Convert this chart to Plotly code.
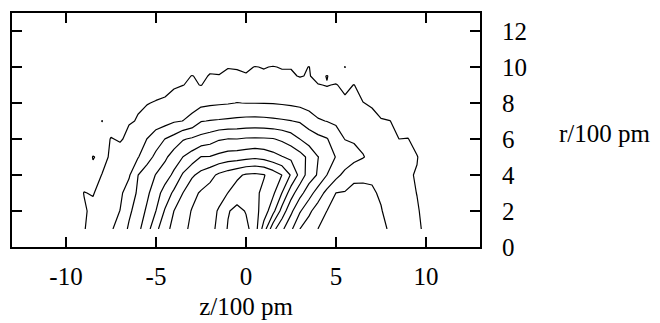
import plotly.graph_objects as go

# Grid coordinates: axial position z and radial position r (units of 100 pm)
z_pos = [-10, -9.5, -9, -8.5, -8, -7.5, -7, -6.5, -6, -5.5, -5, -4.5, -4, -3.5, -3,
         -2.5, -2, -1.5, -1, -0.5, 0, 0.5, 1, 1.5, 2, 2.5, 3, 3.5, 4, 4.5, 5, 5.5,
         6, 6.5, 7, 7.5, 8, 8.5, 9, 9.5, 10, 10.5, 11]
r_pos = [1, 2, 3, 4, 5, 6, 7, 8, 9, 9.5, 10, 11]

# Density values, one row per radial position
dens_r1 = [0.5, 0.75, 0.96, 1.25, 1.56, 1.88, 2.43, 3.13, 3.75, 4.6, 5.75, 6.67, 7.3, 7.8, 8.18,
           8.47, 8.76, 9.2, 10.09, 10.51, 10.26, 9.5, 7.5, 5.33, 4.2, 3.2, 1.99, 1.5, 0.99, 0.9,
           0.8, 0.7, 0.6, 0.71, 0.81, 0.92, 1.04, 1.23, 1.28, 1.1, 0.89, 0.6, 0.4]
dens_r2 = [0.45, 0.7, 0.91, 1.17, 1.5, 1.72, 2.01, 2.83, 3.4, 4.17, 5.01, 6.1, 7.01, 7.56, 8.06,
           8.3, 8.71, 9.08, 9.92, 10.3, 9.94, 9.31, 8.55, 7.33, 5.6, 4.22, 3.1, 2.2, 1.53, 0.99,
           0.89, 0.8, 0.7, 0.79, 0.89, 0.98, 1.12, 1.27, 1.19, 1.05, 0.85, 0.6, 0.4]
dens_r3 = [0.4, 0.6, 1.02, 0.96, 1.24, 1.45, 1.82, 2.44, 3.15, 3.79, 4.6, 5.4, 6.2, 7.01, 7.7,
           8.12, 8.41, 8.71, 9.01, 9.43, 9.44, 9.18, 8.8, 8.2, 6.98, 5.45, 4.33, 3.45, 2.5, 1.71,
           0.99, 0.93, 0.86, 0.9, 0.96, 1.04, 1.15, 1.25, 1.13, 0.99, 0.8, 0.55, 0.35]
dens_r4 = [0.3, 0.5, 0.7, 0.85, 1.01, 1.35, 1.59, 1.88, 2.99, 3.45, 4.05, 4.57, 5.2, 6.13, 6.85,
           7.3, 7.7, 8.19, 8.5, 8.81, 9.12, 9.2, 9.05, 8.56, 7.99, 6.9, 5.67, 4.5, 3.9, 2.99,
           2.3, 1.7, 1.12, 1.08, 1.05, 1.1, 1.18, 1.2, 1.06, 0.96, 0.7, 0.5, 0.3]
dens_r5 = [0.2, 0.35, 0.55, 1.03, 0.87, 1.06, 1.35, 1.65, 1.94, 2.67, 3.2, 3.8, 4.5, 5.01, 5.45,
           6.03, 6.05, 6.28, 6.48, 6.54, 6.67, 6.8, 6.65, 6.36, 6.05, 5.8, 5.4, 4.75, 4.02, 3.58,
           2.95, 2.71, 2.39, 2.06, 1.7, 1.45, 1.3, 1.2, 1.12, 1.03, 0.7, 0.45, 0.25]
dens_r6 = [0.1, 0.2, 0.35, 0.5, 0.65, 1.04, 0.92, 1.17, 1.58, 2.01, 2.6, 3.01, 3.35, 3.92, 4.13,
           4.35, 4.57, 4.9, 5.01, 5.0, 5.1, 5.12, 5.1, 5.05, 4.83, 4.5, 3.99, 3.55, 3.29, 3.05,
           2.5, 1.97, 1.87, 1.72, 1.56, 1.41, 1.25, 1.0, 1.02, 0.75, 0.55, 0.35, 0.2]
dens_r7 = [0.05, 0.1, 0.2, 0.3, 1.02, 0.6, 0.75, 0.95, 1.03, 1.26, 1.44, 1.63, 1.9, 2.01, 2.3,
           2.95, 3.04, 3.1, 3.17, 3.23, 3.29, 3.3, 3.27, 3.2, 3.12, 3.02, 2.9, 2.5, 2.1, 1.97,
           1.83, 1.69, 1.54, 1.4, 1.26, 1.05, 1.01, 0.8, 0.62, 0.45, 0.3, 0.2, 0.1]
dens_r8 = [0, 0.05, 0.1, 0.2, 0.3, 0.45, 0.6, 0.75, 0.95, 0.97, 1.05, 1.1, 1.35, 1.48, 1.6,
           1.72, 1.82, 1.88, 1.93, 2.02, 1.98, 1.98, 1.97, 1.95, 1.9, 1.82, 1.72, 1.6, 1.48, 1.36,
           1.25, 1.15, 1.06, 1.02, 0.9, 0.7, 0.55, 0.4, 0.3, 0.2, 0.1, 0.05, 0]
dens_r9 = [0, 0, 0, 0.05, 0.1, 0.2, 0.3, 0.4, 0.5, 0.6, 0.7, 0.8, 0.9, 0.99, 1.08,
           0.98, 1.19, 1.15, 1.25, 1.33, 1.28, 1.2, 1.28, 1.27, 1.32, 1.2, 1.2, 1.08, 1.03, 0.97,
           1.04, 0.82, 1.02, 0.65, 0.55, 0.45, 0.35, 0.25, 0.15, 0.1, 0.05, 0, 0]
dens_r9h = [0, 0, 0, 0, 0, 0.05, 0.1, 0.15, 0.25, 0.35, 0.45, 0.55, 0.65, 0.78, 1.03,
            0.85, 1.05, 1.02, 1.1, 1.12, 1.05, 1.12, 1.1, 1.15, 1.12, 1.06, 0.97, 1.04, 0.8, 1.03,
            0.7, 0.6, 0.5, 0.35, 0.25, 0.2, 0.15, 0.1, 0.05, 0, 0, 0, 0]
dens_r10 = [0, 0, 0, 0, 0, 0, 0, 0, 0, 0, 0, 0.1, 0.2, 0.35, 0.5,
            0.65, 0.85, 0.88, 0.98, 0.95, 0.9, 1.02, 0.97, 1.03, 0.96, 0.98, 0.84, 1.02, 0.62, 0.5,
            0.38, 1.03, 0.15, 0.08, 0, 0, 0, 0, 0, 0, 0, 0, 0]
dens_r11 = [0, 0, 0, 0, 0, 0, 0, 0, 0, 0, 0, 0, 0, 0, 0,
            0.05, 0.1, 0.15, 0.2, 0.25, 0.28, 0.3, 0.3, 0.28, 0.25, 0.2, 0.15, 0.1, 0.05, 0,
            0, 0, 0, 0, 0, 0, 0, 0, 0, 0, 0, 0, 0]

density = [dens_r1, dens_r2, dens_r3, dens_r4, dens_r5, dens_r6,
           dens_r7, dens_r8, dens_r9, dens_r9h, dens_r10, dens_r11]

x_ticks = [-10, -5, 0, 5, 10]
y_ticks = [0, 2, 4, 6, 8, 10, 12]

FONT = "Liberation Serif, Times New Roman, serif"

fig = go.Figure(
    go.Contour(
        x=z_pos,
        y=r_pos,
        z=density,
        contours=dict(coloring="none", start=1, end=10, size=1, showlabels=False),
        line=dict(color="black", width=1.2, smoothing=0),
        showscale=False,
        hoverinfo="skip",
    )
)

axis_common = dict(
    showgrid=False,
    zeroline=False,
    showline=True,
    linecolor="black",
    linewidth=2,
    mirror="allticks",
    ticks="inside",
    ticklen=10,
    tickwidth=2,
    tickcolor="black",
    automargin=False,
    tickfont=dict(family=FONT, size=25, color="black"),
)

fig.update_layout(
    width=660,
    height=323,
    margin=dict(l=12, r=180, t=13, b=76),
    paper_bgcolor="white",
    plot_bgcolor="white",
    showlegend=False,
    xaxis=dict(
        range=[-13, 13],
        tickvals=x_ticks,
        ticktext=[str(v) for v in x_ticks],
        ticklabelstandoff=6,
        title=dict(text="z/100 pm", font=dict(family=FONT, size=25, color="black"), standoff=8),
        **axis_common,
    ),
    yaxis=dict(
        range=[0, 13],
        tickvals=y_ticks,
        side="right",
        ticklabelstandoff=15,
        **axis_common,
    ),
    annotations=[
        dict(
            text="r/100 pm",
            xref="paper", yref="paper",
            x=1.165, y=0.487,
            xanchor="left", yanchor="middle",
            showarrow=False,
            font=dict(family=FONT, size=25, color="black"),
        )
    ],
)

fig.write_html("out.html")
